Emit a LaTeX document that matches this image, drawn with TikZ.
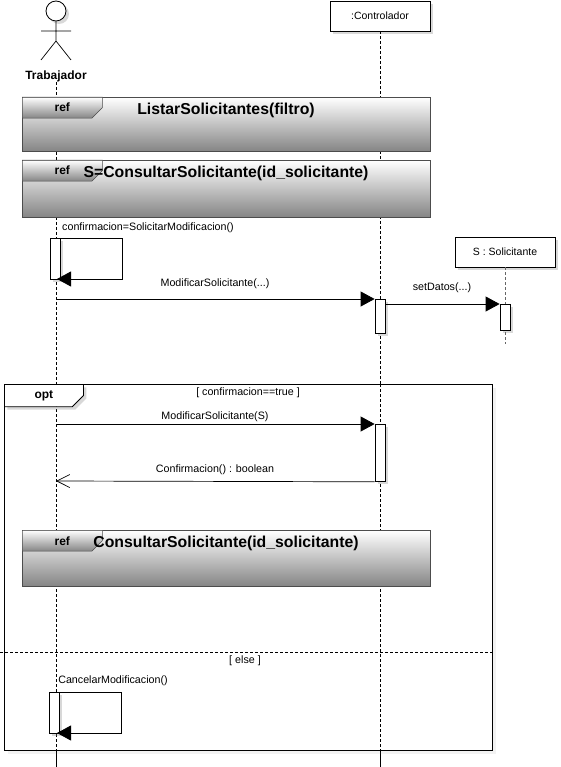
\documentclass[tikz,border=0pt]{standalone}
\usepackage{fontspec}
\setmainfont{Liberation Sans}
\usepackage{tikz}
\usetikzlibrary{arrows.meta,shadows,shapes.misc,positioning}
\definecolor{framegray}{gray}{0.52}
\tikzstyle{softshadow} = [drop shadow={shadow xshift=3pt, shadow yshift=-3pt, opacity=0.3}]
\tikzstyle{lifehead} = [rectangle, draw=black, fill=white, line width=0.8pt, minimum width=100pt, inner sep=0pt, font=\fontsize{10.5}{12}\selectfont, softshadow]
\tikzstyle{lifeline} = [dash pattern=on 3pt off 2pt, line width=0.7pt]
\tikzstyle{activation} = [rectangle, draw=black, fill=white, line width=0.8pt, minimum width=10pt, inner sep=0pt, softshadow]
\tikzstyle{refbox} = [rectangle, draw=black!70, line width=0.6pt, top color=white, bottom color=framegray, minimum width=408pt, inner sep=0pt]
\tikzstyle{reftab} = [chamfered rectangle, chamfered rectangle corners=south east, chamfered rectangle xsep=6pt, chamfered rectangle ysep=6pt, draw=black!70, line width=0.6pt, top color=white, bottom color=framegray, minimum width=80pt, minimum height=20pt, inner sep=0pt, font=\fontsize{12}{14}\selectfont\bfseries]
\tikzstyle{reflabel} = [font=\fontsize{15.8}{18}\selectfont\bfseries, inner sep=0pt]
\tikzstyle{msglabel} = [font=\fontsize{10.7}{12}\selectfont, inner sep=0pt]
\tikzstyle{msg} = [-{Triangle[length=14pt,width=15pt]}, line width=0.8pt]
\tikzstyle{answer} = [-{Straight Barb[length=13pt,width=13pt]}, line width=0.7pt]

\begin{document}
\begin{tikzpicture}[x=1pt, y=-1pt]
  \useasboundingbox (0,0) rectangle (561,767);

  % actor
  \node (head) [circle, draw=black, fill=white, line width=0.8pt, minimum size=20pt, inner sep=0pt, softshadow] at (56,11) {};
  \coordinate (hip) at (56,41);
  \coordinate (armL) at (41,31);
  \coordinate (armR) at (71,31);
  \coordinate (footL) at (41,60);
  \coordinate (footR) at (71,60);
  \draw [line width=0.7pt] (head.south) -- (hip) (armL) -- (armR) (footL) -- (hip) -- (footR);
  \node (trabajador) [font=\fontsize{12}{14}\selectfont\bfseries, inner sep=0pt] at (56,76) {Trabajador};

  % lifelines
  \coordinate (endA) at (56,767);
  \coordinate (endB) at (380,767);
  \coordinate (endC) at (505,344);
  \node (controlador) [lifehead, minimum height=30pt] at (380,16) {:Controlador};
  \node (solicitante) [lifehead, minimum height=30pt] at (505,252) {S : Solicitante};
  \draw [lifeline] (trabajador.south -| endA) -- (endA);
  \draw [lifeline] (controlador) -- (endB);
  \draw [lifeline, draw=black!60, line width=1pt] (solicitante) -- (endC);

  % opt frame
  \node (optframe) [rectangle, draw=black, fill=white, line width=0.8pt, minimum width=488pt, minimum height=366pt, inner sep=0pt, anchor=north west, drop shadow={shadow xshift=4pt, shadow yshift=-4pt, opacity=0.1}] at (4,384) {};
  \draw [lifeline] (56,384) -- (endA);
  \draw [lifeline] (380,384) -- (endB);
  \node (opttab) [reftab, draw=black, line width=0.8pt, top color=white, bottom color=white, minimum width=79pt, anchor=north west, softshadow] at (optframe.north west) {opt};
  \node (optguard) [msglabel] at (248,393) {[ confirmacion==true ]};
  \coordinate (elseL) at (0,652);
  \coordinate (elseR) at (optframe.east |- elseL);
  \draw [lifeline, line width=0.8pt] (elseL) -- (elseR);
  \node (elseguard) [msglabel] at (245,661) {[ else ]};

  % referenced fragments
  \node (ref1) [refbox, minimum height=54pt, anchor=north west] at (22,97) {};
  \node (ref1tab) [reftab, anchor=north west] at (ref1.north west) {ref};
  \node (ref1text) [reflabel] at (226,110) {ListarSolicitantes(filtro)};

  \node (ref2) [refbox, minimum height=57pt, anchor=north west] at (22,160) {};
  \node (ref2tab) [reftab, anchor=north west] at (ref2.north west) {ref};
  \node (ref2text) [reflabel] at (226,173) {S=ConsultarSolicitante(id\_solicitante)};

  \node (ref3) [refbox, minimum height=56pt, anchor=north west] at (22,530) {};
  \node (ref3tab) [reftab, anchor=north west] at (ref3.north west) {ref};
  \node (ref3text) [reflabel] at (226,543) {ConsultarSolicitante(id\_solicitante)};

  % activations
  \node (act1) [activation, minimum height=41pt, anchor=north] at (55,238) {};
  \node (act2) [activation, minimum height=34pt, anchor=north] at (380,299) {};
  \node (act3) [activation, minimum height=26pt, anchor=north] at (505,304) {};
  \node (act4) [activation, minimum height=57pt, anchor=north] at (380,424) {};
  \node (act5) [activation, minimum height=41pt, anchor=north] at (54,692) {};

  % messages
  \coordinate (selfA) at (122,238);
  \coordinate (selfB) at (121,692);
  \coordinate (startA) at (56,299);
  \coordinate (startB) at (56,424);
  \coordinate (startC) at (56,481);
  \coordinate (tipA) at (57,279);
  \coordinate (tipB) at (57,733);
  \draw [msg] (act1.north east) -- (selfA) -- (selfA |- tipA) -- (tipA);
  \node (msg1) [msglabel] at (148,227.5) {confirmacion=SolicitarModificacion()};
  \draw [msg] (startA) -- (act2.north west);
  \node (msg2) [msglabel] at (215,283.5) {ModificarSolicitante(...)};
  \draw [msg] (act2.east |- act3.north) -- (act3.north west);
  \node (msg3) [msglabel] at (442,288) {setDatos(...)};
  \draw [msg] (startB) -- (act4.north west);
  \node (msg4) [msglabel] at (215,417) {ModificarSolicitante(S)};
  \draw [answer] (act4.south west) -- (startC);
  \node (msg5) [msglabel] at (215,470) {Confirmacion() : boolean};
  \draw [msg] (act5.north east) -- (selfB) -- (selfB |- tipB) -- (tipB);
  \node (msg6) [msglabel] at (113,680.5) {CancelarModificacion()};
\end{tikzpicture}
\end{document}
